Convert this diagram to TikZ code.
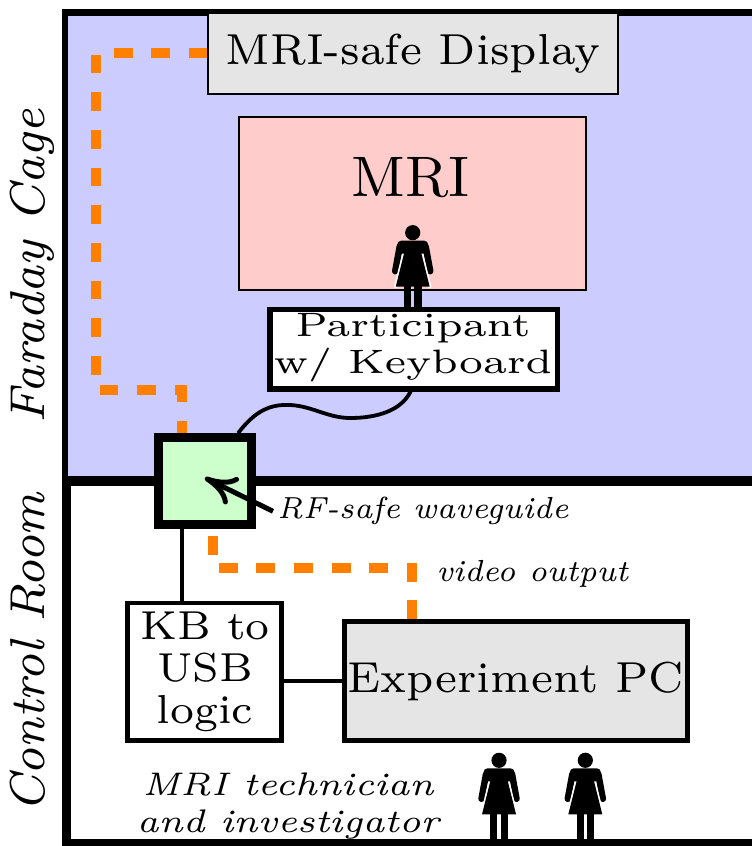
\documentclass[tikz,border=0pt]{standalone}
\usetikzlibrary{calc,arrows.meta}
\definecolor{cagec}{RGB}{204,204,255}
\definecolor{mric}{RGB}{255,204,204}
\definecolor{dispc}{RGB}{229,229,229}
\definecolor{wgc}{RGB}{204,255,204}
\definecolor{vidc}{RGB}{255,128,0}
\newdimen\pxu \pxu=0.15924pt
\pgfdeclarelayer{back}
\pgfdeclarelayer{lines}
\pgfsetlayers{back,lines,main}
\newcommand{\mltext}[4]{\scalebox{#1}[#2]{\fontsize{7}{#3}\selectfont\begin{tabular}{@{}c@{}}#4\end{tabular}}}
\tikzset{
  box/.style={draw, inner sep=0pt, outer sep=0pt},
  lbl/.style={inner sep=0pt, outer sep=0pt},
  vid/.style={draw=vidc, line width=10\pxu, dash pattern=on 3pt off 3pt},
  wire/.style={draw=black, line width=4\pxu},
  woman/.pic={
    \draw[line width=6.5\pxu, line cap=round] (-13,14) -- (-17.5,38.5);
    \draw[line width=6.5\pxu, line cap=round] (13,14) -- (17.5,38.5);
    \draw[white, line width=3.4\pxu] (-7.5,16) -- (-17.2,55);
    \draw[white, line width=3.4\pxu] (7.5,16) -- (17.2,55);
    \fill (-8,18) -- (8,18) -- (17,54) -- (-17,54) -- cycle;
    \fill (-15.5,21) [rounded corners=4\pxu] -- (-15.5,8) -- (15.5,8) [sharp corners] -- (15.5,21) -- cycle;
    \fill (0,0) circle (7.6);
    \fill (-8.8,52) rectangle (-1.6,95);
    \fill (1.6,52) rectangle (8.8,95);
  }
}
\begin{document}
\begin{tikzpicture}[x=0.15924pt, y=-0.15924pt]
\useasboundingbox (0,0) rectangle (751,846);
\clip (0,0) rectangle (751,846);
\begin{pgfonlayer}{back}
  \draw[fill=cagec, line width=6.5\pxu] (65,12.5) rectangle (800,481);
  \draw[fill=white, line width=9.5\pxu] (66.5,481) rectangle (800,843.5);
\end{pgfonlayer}
% rotated room labels
\node[lbl, rotate=90, anchor=base, font=\fontsize{7.8}{9.4}\selectfont\itshape] (cagelbl) at (44,266.5) {Faraday Cage};
\node[lbl, rotate=90, anchor=base, font=\fontsize{7.8}{9.4}\selectfont\itshape] (roomlbl) at (44,653) {Control Room};
% top boxes
\node[box, fill=dispc, line width=2\pxu, minimum width=410\pxu, minimum height=81\pxu, font=\fontsize{6.9}{8.3}\selectfont] (disp) at (413,53.5) {MRI-safe Display};
\node[box, fill=mric, line width=2\pxu, minimum width=347\pxu, minimum height=173\pxu] (mri) at (412.5,203.5) {};
\node[lbl, font=\fontsize{9.1}{11}\selectfont] (mrit) at (411,178) {MRI};
\pic at (412.7,232.7) {woman};
\node[box, fill=white, line width=5.5\pxu, minimum width=287.5\pxu, minimum height=79.5\pxu] (part) at (413.5,349.5) {};
\node[lbl] (partt) at (413,347.8) {\mltext{0.955}{0.77}{7.44}{Participant\\w/ Keyboard}};
% waveguide
\node[box, fill=wgc, line width=9\pxu, minimum width=93\pxu, minimum height=87.3\pxu] (wg) at (205,480.9) {};
% control room boxes
\node[box, fill=white, line width=4.7\pxu, minimum width=154.2\pxu, minimum height=137.4\pxu] (kb) at (204.5,671.7) {};
\node[lbl] (kbt) at (205,672.6) {\mltext{0.96}{0.92}{7.27}{KB to\\USB\\logic}};
\node[box, fill=dispc, line width=5\pxu, minimum width=343.3\pxu, minimum height=118.4\pxu, font=\fontsize{6.9}{8.3}\selectfont] (pc) at (515.9,681) {Experiment PC};
% labels
\node[lbl, anchor=west, font=\fontsize{4.85}{5.8}\selectfont\itshape] (rf) at (277,511.3) {RF-safe waveguide};
\node[lbl, anchor=west, font=\fontsize{4.85}{5.8}\selectfont\itshape] (vidlbl) at (436.5,573.5) {video output};
\node[lbl] (staff) at (288,806.1) {\mltext{0.827}{0.743}{7.93}{\itshape MRI technician\\\itshape and investigator}};
% people in control room
\pic at (499,760.3) {woman};
\pic at (585.3,760.3) {woman};
% connectors
\coordinate (d1) at (96,390);
\coordinate (d2) at (182,390);
\coordinate (v1) at (213,567.7);
\coordinate (v2) at (412,567.7);
\coordinate (k1) at (182,600);
\begin{pgfonlayer}{lines}
  \draw[vid] (disp.west) -| (d1) -- (d2) -- (wg.north -| d2);
  \draw[vid] ($(pc.north -| v2)+(0,-2.5)$) -- (v2) -- (v1) -- (wg.south -| v1);
  \draw[wire] (wg.south -| k1) -- (kb.north -| k1);
  \draw[wire] (kb.east |- pc.west) -- (pc.west);
  \draw[line width=3.8\pxu] ($(wg.north)+(33,-4)$) .. controls (255,411) and (270,404) .. (290,405)
     .. controls (312,406) and (328,418) .. (350,418)
     .. controls (385,418) and (405,406) .. ($(part.south)+(-2,0)$);
\end{pgfonlayer}
\draw[line width=5\pxu, -{To[length=5pt,width=4.8pt]}] ($(rf.west)+(-4,0)$) -- ($(wg.center)+(0,-3)$);
\end{tikzpicture}
\end{document}
